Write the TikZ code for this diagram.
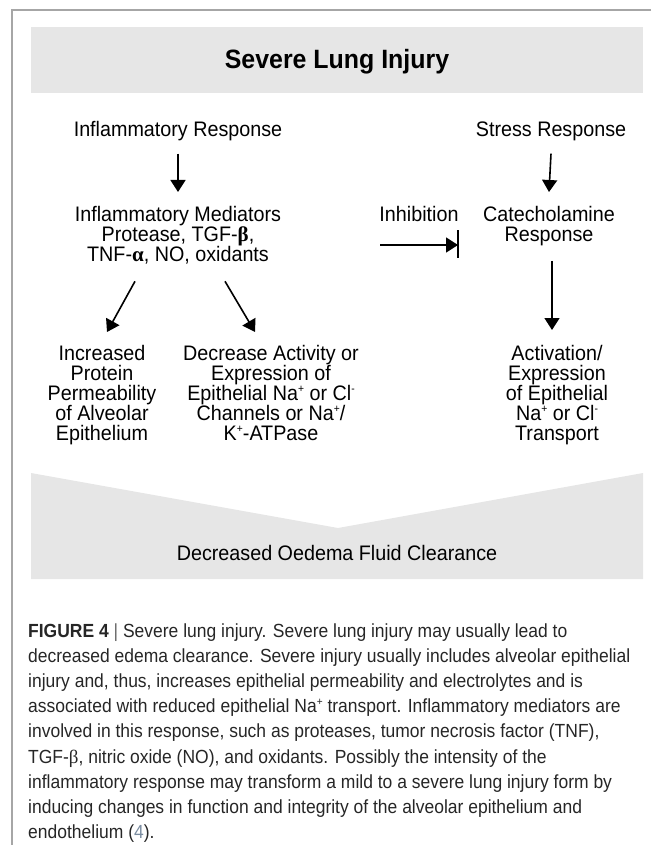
\documentclass[tikz,border=0pt]{standalone}
\usepackage{fontspec}
\setmainfont{Liberation Sans}
\newfontfamily\grkfont{Liberation Serif}
\newfontfamily\diagfont[FakeStretch=0.94]{Liberation Sans}
\newfontfamily\capfont[FakeStretch=0.92]{Liberation Sans}
\usetikzlibrary{arrows.meta}
\definecolor{panelgray}{HTML}{E6E6E6}
\definecolor{framegray}{HTML}{A6A6A6}
\definecolor{linkblue}{HTML}{7A8CA0}
\newcommand\supsmall[1]{\smash{\raisebox{0.38em}{\fontsize{11}{0}\selectfont #1}}}
\begin{document}
\begin{tikzpicture}[x=1pt,y=-1pt,
  lbl/.style={inner sep=0pt, font=\diagfont\fontsize{21}{20}\selectfont, align=center},
  arr/.style={line width=1.6pt, -{Triangle[width=15pt,length=12pt]}},
  capline/.style={inner sep=0pt, anchor=base west, text=black!85, font=\capfont\fontsize{19}{25}\selectfont}]
\useasboundingbox (0,0) rectangle (651,845);
\draw[framegray, line width=2pt] (651,10) -- (12,10) -- (12,845);
\fill[panelgray] (31,27) rectangle (643,93);
\node[anchor=base, inner sep=0pt, font=\diagfont\fontsize{26.5}{25}\selectfont\bfseries] (title) at (337,69) {Severe Lung Injury};

\node[lbl, anchor=base] (infl) at (178,137) {Inflammatory Response};
\node[lbl, anchor=base] (stress) at (551,137) {Stress Response};
\node[lbl, anchor=north] (med) at (178,206) {Inflammatory Mediators\\Protease, TGF-{\grkfont\bfseries β},\\TNF-{\grkfont\bfseries α}, NO, oxidants};
\node[lbl, anchor=base] (inh) at (419,221) {Inhibition};
\node[lbl, anchor=north] (cat) at (549,206) {Catecholamine\\Response};
\node[lbl, anchor=north] (inc) at (102,345) {Increased\\Protein\\Permeability\\of Alveolar\\Epithelium};
\node[lbl, anchor=north] (dec) at (271,345) {Decrease Activity or\\Expression of\\Epithelial Na\supsmall{+} or Cl\supsmall{-}\\Channels or Na\supsmall{+}/\\K\supsmall{+}-ATPase};
\node[lbl, anchor=north] (act) at (557,345) {Activation/\\Expression\\of Epithelial\\Na\supsmall{+} or Cl\supsmall{-}\\Transport};

\draw[arr] ([yshift=-12pt]infl.south) -- ([yshift=14pt]med.north);
\draw[arr] ([yshift=-12pt]stress.south) -- ([yshift=14pt]cat.north);
\draw[arr] ([xshift=-43pt,yshift=-17pt]med.south) -- ([xshift=5pt,yshift=13pt]inc.north);
\draw[arr] ([xshift=47pt,yshift=-17pt]med.south) -- ([xshift=-16pt,yshift=13pt]dec.north);
\draw[arr] ([xshift=3pt,yshift=-15pt]cat.south) -- ([xshift=-5pt,yshift=15pt]act.north);

\coordinate (inhs) at (380,245);
\coordinate (inhe) at (458,245);
\draw[arr] (inhs) -- (inhe);
\draw[line width=1.6pt] ([yshift=15pt]inhe) -- ([yshift=-13pt]inhe);

\fill[panelgray] (31,473) -- (338,528) -- (643,473) -- (643,579) -- (31,579) -- cycle;
\node[lbl, anchor=base] (outcome) at (337,560) {Decreased Oedema Fluid Clearance};

\node[capline] (c1) at (28,637) {\textbf{FIGURE 4} {\color{black!60}|} Severe lung injury. Severe lung injury may usually lead to};
\node[capline] (c2) at (28,662.2) {decreased edema clearance. Severe injury usually includes alveolar epithelial};
\node[capline] (c3) at (28,687.4) {injury and, thus, increases epithelial permeability and electrolytes and is};
\node[capline] (c4) at (28,712.6) {associated with reduced epithelial Na\supsmall{+} transport. Inflammatory mediators are};
\node[capline] (c5) at (28,737.8) {involved in this response, such as proteases, tumor necrosis factor (TNF),};
\node[capline] (c6) at (28,763.0) {TGF-{\grkfont β}, nitric oxide (NO), and oxidants. Possibly the intensity of the};
\node[capline] (c7) at (28,788.2) {inflammatory response may transform a mild to a severe lung injury form by};
\node[capline] (c8) at (28,813.4) {inducing changes in function and integrity of the alveolar epithelium and};
\node[capline] (c9) at (28,838.6) {endothelium ({\color{linkblue}4}).};
\end{tikzpicture}
\end{document}
